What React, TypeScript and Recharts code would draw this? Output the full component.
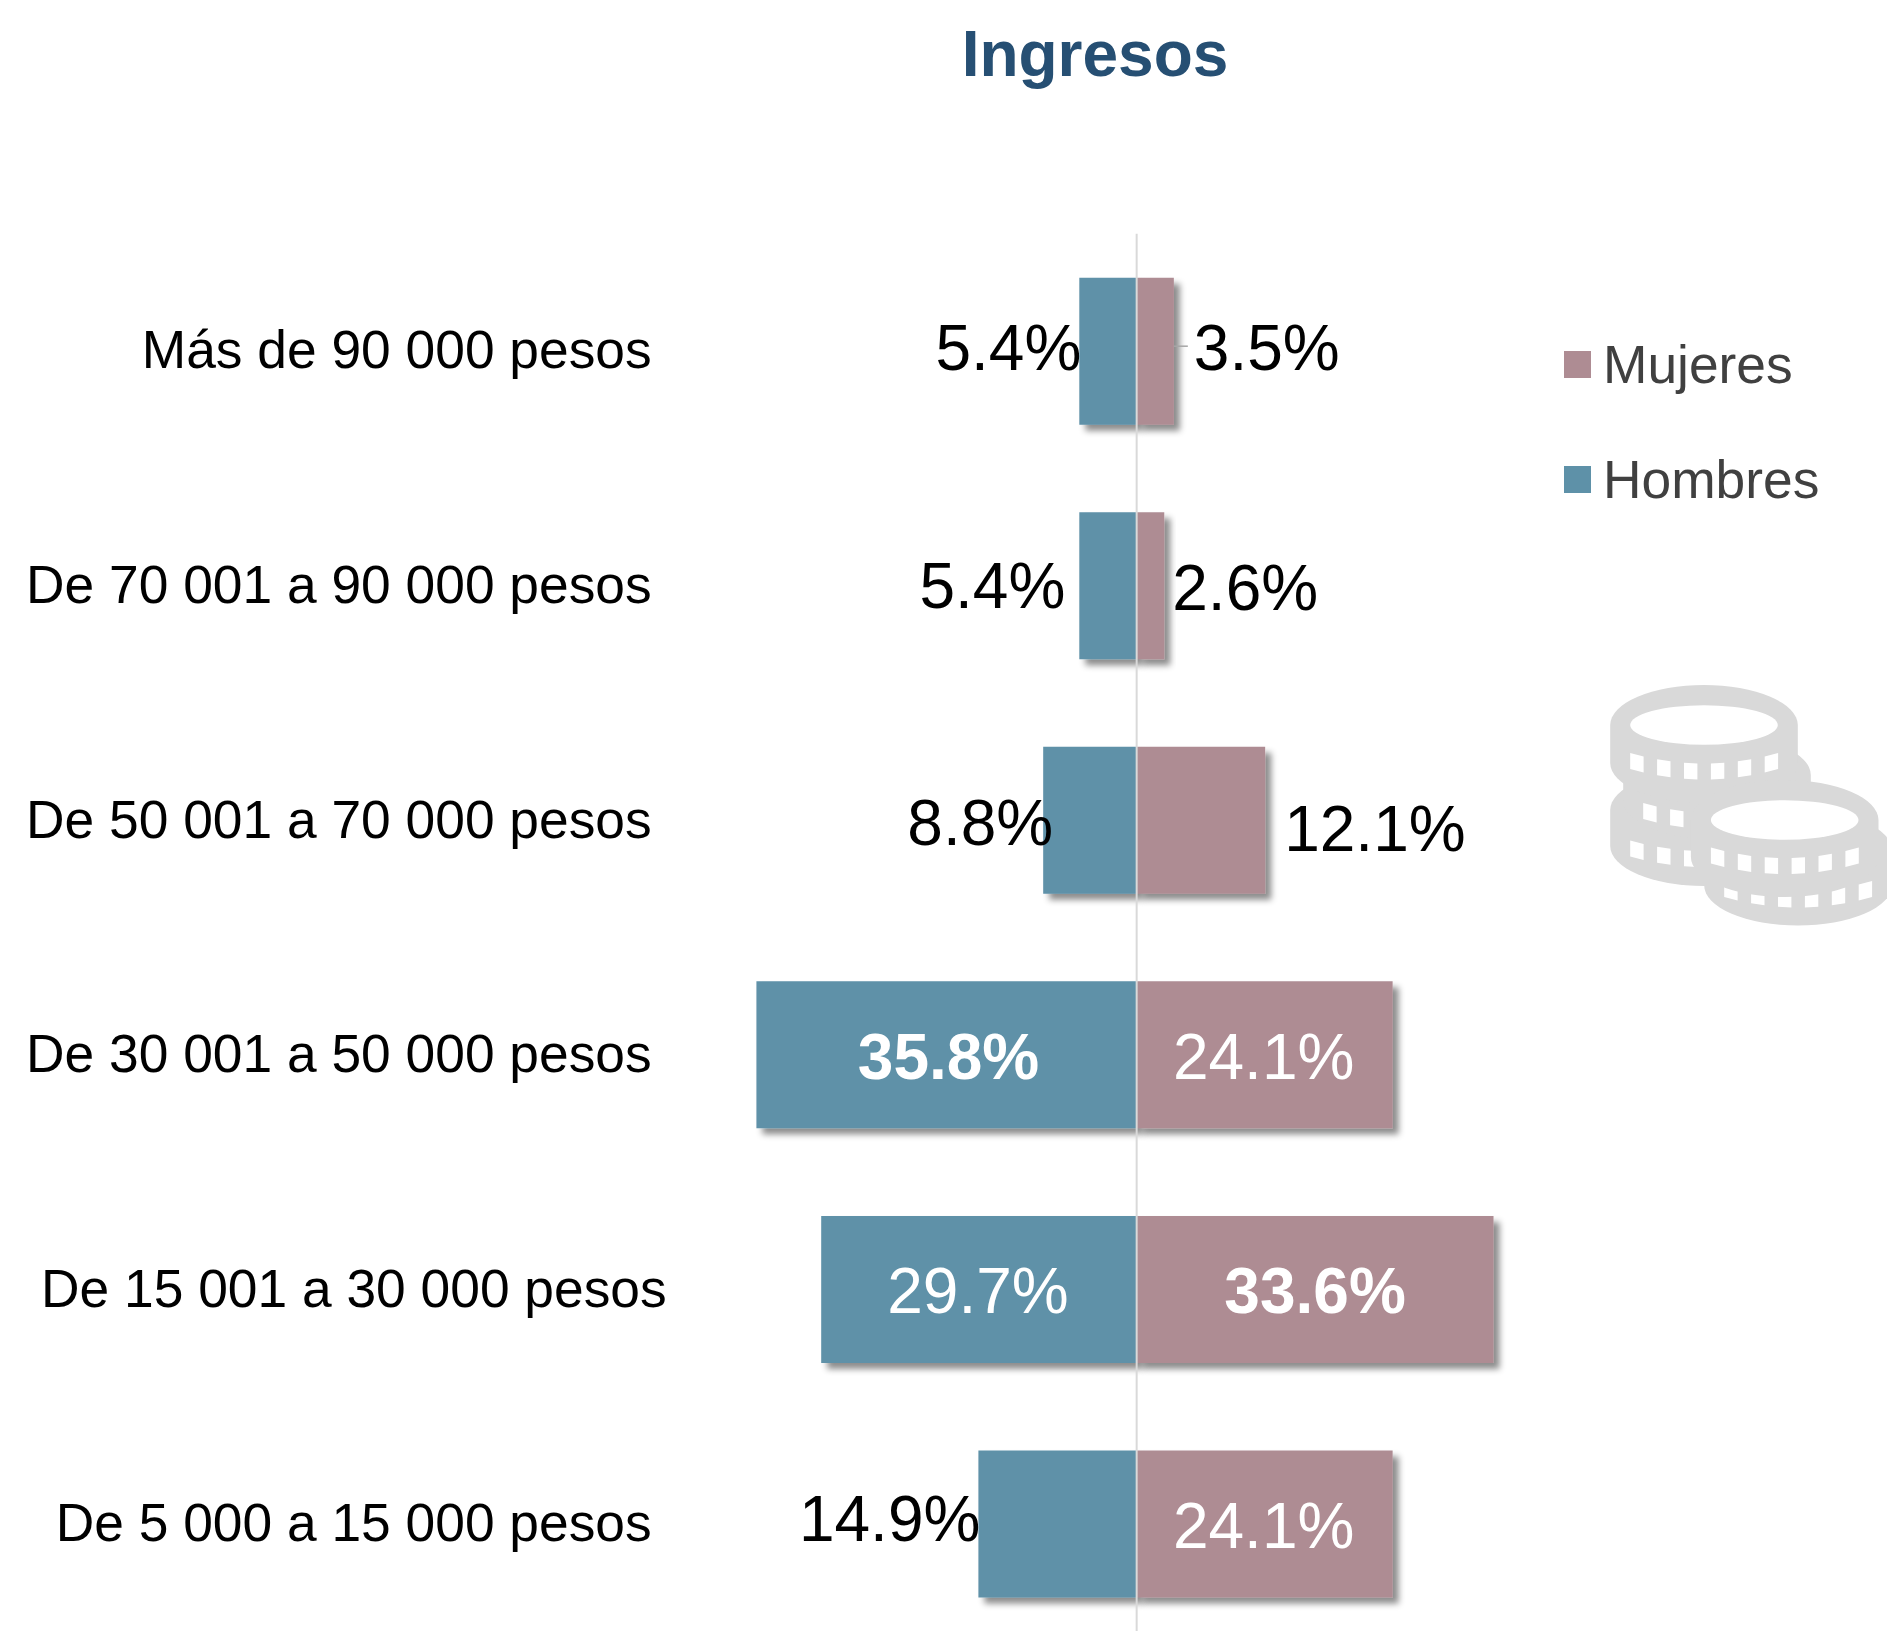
import React from 'react';
import { BarChart, Bar, XAxis, YAxis, Legend, LabelList, ReferenceLine } from 'recharts';

const categories = [
  'Más de 90 000 pesos',
  'De 70 001 a 90 000 pesos',
  'De 50 001 a 70 000 pesos',
  'De 30 001 a 50 000 pesos',
  'De 15 001 a 30 000 pesos',
  'De 5 000 a 15 000 pesos',
];
const hombres = [5.4, 5.4, 8.8, 35.8, 29.7, 14.9];
const mujeres = [3.5, 2.6, 12.1, 24.1, 33.6, 24.1];

const data = categories.map((name, i) => ({ name, hombres: -hombres[i], mujeres: mujeres[i] }));

// hand placement of the labels, as in the source slide
const hombresNudge = [
  { dx: 2, dy: -4 },
  { dx: -14, dy: -1 },
  { dx: 10, dy: 2 },
  { dx: 2, dy: 1 },
  { dx: -1, dy: 1 },
  { dx: 2, dy: -6 },
];
const mujeresNudge = [
  { dx: 20, dy: -4 },
  { dx: 8, dy: 1 },
  { dx: 19, dy: 8 },
  { dx: -1, dy: 1 },
  { dx: 0, dy: 1 },
  { dx: -1, dy: 1 },
];
const tickNudge = [7, 7, 7, 7, 22, 7];

const BLUE = '#5E91A8';
const MAUVE = '#AE8C93';
const ICON = '#D9D9D9';
const FONT = '"Liberation Sans", Arial, sans-serif';

const makeLabel = (nudge: { dx: number; dy: number }[], side: 'left' | 'right', series: number[]) => (props: any) => {
  const { x, y, width, height, value, index } = props;
  const abs = Math.abs(Number(value));
  const left = Math.min(x, x + width);
  const right = Math.max(x, x + width);
  const inside = abs >= 20;
  const bold = abs === Math.max(...series);
  const { dx, dy } = nudge[index];
  const cy = y + height / 2 + 23 + dy;
  let tx = (left + right) / 2 + dx;
  let anchor: 'middle' | 'end' | 'start' = 'middle';
  if (!inside) {
    tx = (side === 'left' ? left : right) + dx;
    anchor = side === 'left' ? 'end' : 'start';
  }
  return (
    <g>
      {side === 'right' && index === 0 && (
        <line x1={right} x2={right + 14} y1={y + height / 2 - 5} y2={y + height / 2 - 5} stroke="#A6A6A6" strokeWidth={1.5} />
      )}
      <text x={tx} y={cy} textAnchor={anchor} fontFamily={FONT} fontSize={64} fontWeight={bold ? 700 : 400} fill={inside ? '#FFFFFF' : '#000000'}>
        {abs.toFixed(1)}%
      </text>
    </g>
  );
};

const CategoryTick = (props: any) => {
  const { x, y, payload, index } = props;
  return (
    <text x={x + tickNudge[index]} y={y + 17.5} textAnchor="end" fontFamily={FONT} fontSize={53.33} fill="#000000">
      {payload.value}
    </text>
  );
};

const LegendBox = ({ payload }: any) => (
  <div style={{ fontFamily: FONT, fontSize: 53.33, color: '#404040' }}>
    {[...(payload || [])].reverse().map((item: any) => (
      <div key={item.value} style={{ display: 'flex', alignItems: 'center', height: 115 }}>
        <span style={{ display: 'block', width: 27, height: 27, background: item.color, marginRight: 12 }} />
        <span>{item.value}</span>
      </div>
    ))}
  </div>
);

// decorative coin, not data
const notchSlots = [0, 1, 2, 3, 4, 5];
const Coin = ({ cx, top, bottom, notch, hole }: { cx: number; top: number; bottom: number; notch: number; hole: boolean }) => {
  const rx = 93.8;
  const ry = 40;
  const hr = 73.8;
  const edge = (px: number) => notch + 10.5 * (1 - ((px - cx) / hr) ** 2);
  return (
    <g>
      <path d={`M${cx - rx} ${top}A${rx} ${ry} 0 0 1 ${cx + rx} ${top}L${cx + rx} ${bottom}A${rx} ${ry} 0 0 1 ${cx - rx} ${bottom}Z`} fill={ICON} />
      {hole && <ellipse cx={cx} cy={top} rx={hr} ry={19.8} fill="#FFFFFF" />}
      {notchSlots.map((k) => {
        const a = cx - hr + k * 26.9;
        const b = a + 13.4;
        return (
          <polygon
            key={k}
            points={`${a},${edge(a) - 8} ${b},${edge(b) - 8} ${b},${edge(b) + 8} ${a},${edge(a) + 8}`}
            fill="#FFFFFF"
          />
        );
      })}
    </g>
  );
};

const CoinsIcon = () => (
  <g>
    <Coin cx={1704} top={810} bottom={846} notch={848.5} hole={false} />
    <Coin cx={1717} top={775} bottom={800} notch={811} hole={false} />
    <Coin cx={1704} top={725} bottom={763} notch={761} hole />
    <Coin cx={1798} top={850} bottom={885.5} notch={889} hole={false} />
    <Coin cx={1784.7} top={820} bottom={857} notch={855.6} hole />
  </g>
);

export default function App() {
  return (
    <div style={{ position: 'absolute', left: 0, top: 0, width: 1887, height: 1631, overflow: 'hidden', background: '#fff' }}>
      <BarChart
        width={1887}
        height={1660}
        data={data}
        layout="vertical"
        stackOffset="sign"
        margin={{ top: 233.7, right: 378.6, bottom: 19, left: 0 }}
      >
        <defs>
          <filter id="barShadow" x="-30%" y="-10%" width="170%" height="130%">
            <feDropShadow dx={6} dy={6} stdDeviation={3} floodColor="#000000" floodOpacity={0.45} />
          </filter>
        </defs>
        <text x={1095} y={76} textAnchor="middle" fontFamily={FONT} fontSize={64} fontWeight={700} fill="#264F73">
          Ingresos
        </text>
        <XAxis type="number" hide domain={[-45, 35]} />
        <YAxis type="category" dataKey="name" width={658.7} axisLine={false} tickLine={false} tickMargin={8} interval={0} tick={<CategoryTick />} />
        <Legend
          layout="vertical"
          align="center"
          verticalAlign="middle"
          content={<LegendBox />}
          wrapperStyle={{ left: 1564, top: 307, width: 320 }}
        />
        <Bar dataKey="hombres" name="Hombres" stackId="a" fill={BLUE} barSize={147} filter="url(#barShadow)" isAnimationActive={false}>
          <LabelList dataKey="hombres" content={makeLabel(hombresNudge, 'left', hombres)} />
        </Bar>
        <Bar dataKey="mujeres" name="Mujeres" stackId="a" fill={MAUVE} barSize={147} filter="url(#barShadow)" isAnimationActive={false}>
          <LabelList dataKey="mujeres" content={makeLabel(mujeresNudge, 'right', mujeres)} />
        </Bar>
        <ReferenceLine x={0} stroke="#D9D9D9" strokeWidth={2} />
        <CoinsIcon />
      </BarChart>
    </div>
  );
}
